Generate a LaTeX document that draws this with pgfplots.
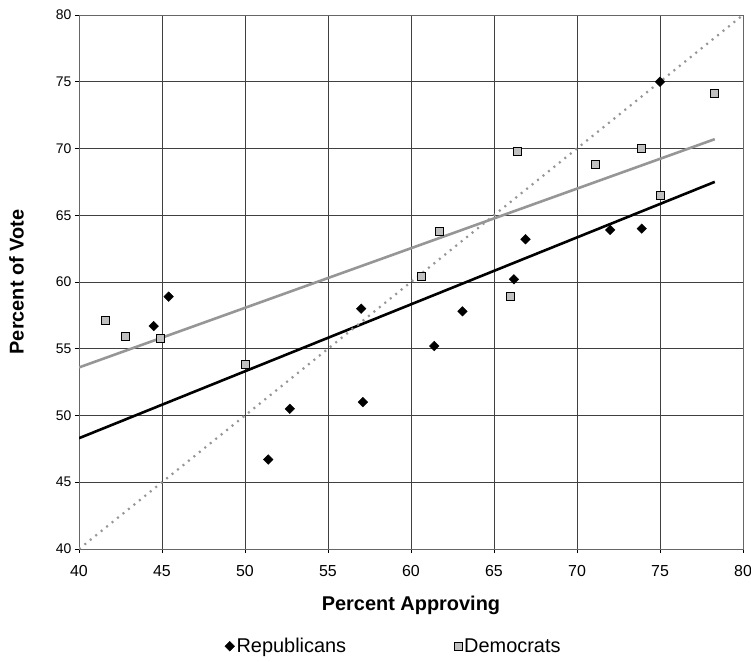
\documentclass[border=0pt]{standalone}
\usepackage{pgfplots}
\pgfplotsset{compat=1.18}
\usepackage{fontspec}
\setmainfont{Liberation Sans}
\definecolor{dgray}{RGB}{192,192,192}
\definecolor{lgray}{RGB}{150,150,150}
\begin{document}
\begin{tikzpicture}
\begin{axis}[
  name=A,
  scale only axis,
  width=664bp, height=534bp,
  xmin=40, xmax=80, ymin=40, ymax=80,
  xtick={40,45,...,80}, ytick={40,45,...,80},
  grid=major,
  major grid style={black!75, line width=0.55pt},
  axis line style={black!60, line width=0.8pt},
  tick style={black, line width=0.6pt},
  tick align=outside,
  major tick length=4bp,
  x axis line style={black},
  xtick pos=bottom, ytick pos=left,
  /pgf/number format/assume math mode=true,
  yticklabel style={font=\fontsize{14}{16}\selectfont},
  xticklabel style={font=\fontsize{16}{18}\selectfont, yshift=-9bp},
  xlabel={\textbf{Percent Approving}},
  ylabel={\textbf{Percent of Vote}},
  label style={font=\fontsize{20}{23}\selectfont},
  xlabel style={at={(axis description cs:0.5,-0.105)}, anchor=center},
  ylabel style={at={(axis description cs:-0.094,0.5)}, anchor=center},
  legend style={at={(0.474,-0.182)}, anchor=center, draw=none,
    legend columns=2, font=\fontsize{20}{23}\selectfont,
    /tikz/every even column/.append style={column sep=106bp}},
  legend cell align=left,
]
\addplot[only marks, mark=square*, mark size=3.4bp, mark options={rotate=45}, draw=black, fill=black] coordinates {
(44.5,56.7) (45.4,58.9) (51.4,46.7) (52.7,50.5) (57.0,58.0) (57.1,51.0)
(61.4,55.2) (63.1,57.8) (66.2,60.2) (66.9,63.2) (72.0,63.9) (73.9,64.0) (75.0,75.0)};
\addlegendentry{Republicans}
\addplot[only marks, mark=square*, mark size=4.0bp, draw=black, fill=dgray, line width=0.9pt] coordinates {
(41.6,57.1) (42.8,55.9) (44.9,55.8) (50.0,53.8) (60.6,60.4) (61.7,63.8)
(66.0,58.9) (66.4,69.8) (71.1,68.8) (73.9,70.0) (75.0,66.5) (78.3,74.1)};
\addlegendentry{Democrats}
\addplot[black, line width=2.6bp, forget plot] coordinates {(40,48.3) (78.3,67.5)};
\addplot[lgray, line width=2.6bp, forget plot] coordinates {(40,53.6) (78.3,70.7)};
\addplot[lgray, line width=2.2bp, dash pattern=on 2bp off 5bp, forget plot] coordinates {(40,40) (80,80)};
\end{axis}
\pgfresetboundingbox
\path ([xshift=-79bp,yshift=-113bp]A.south west) rectangle ([xshift=8bp,yshift=15bp]A.north east);
\end{tikzpicture}
\end{document}
